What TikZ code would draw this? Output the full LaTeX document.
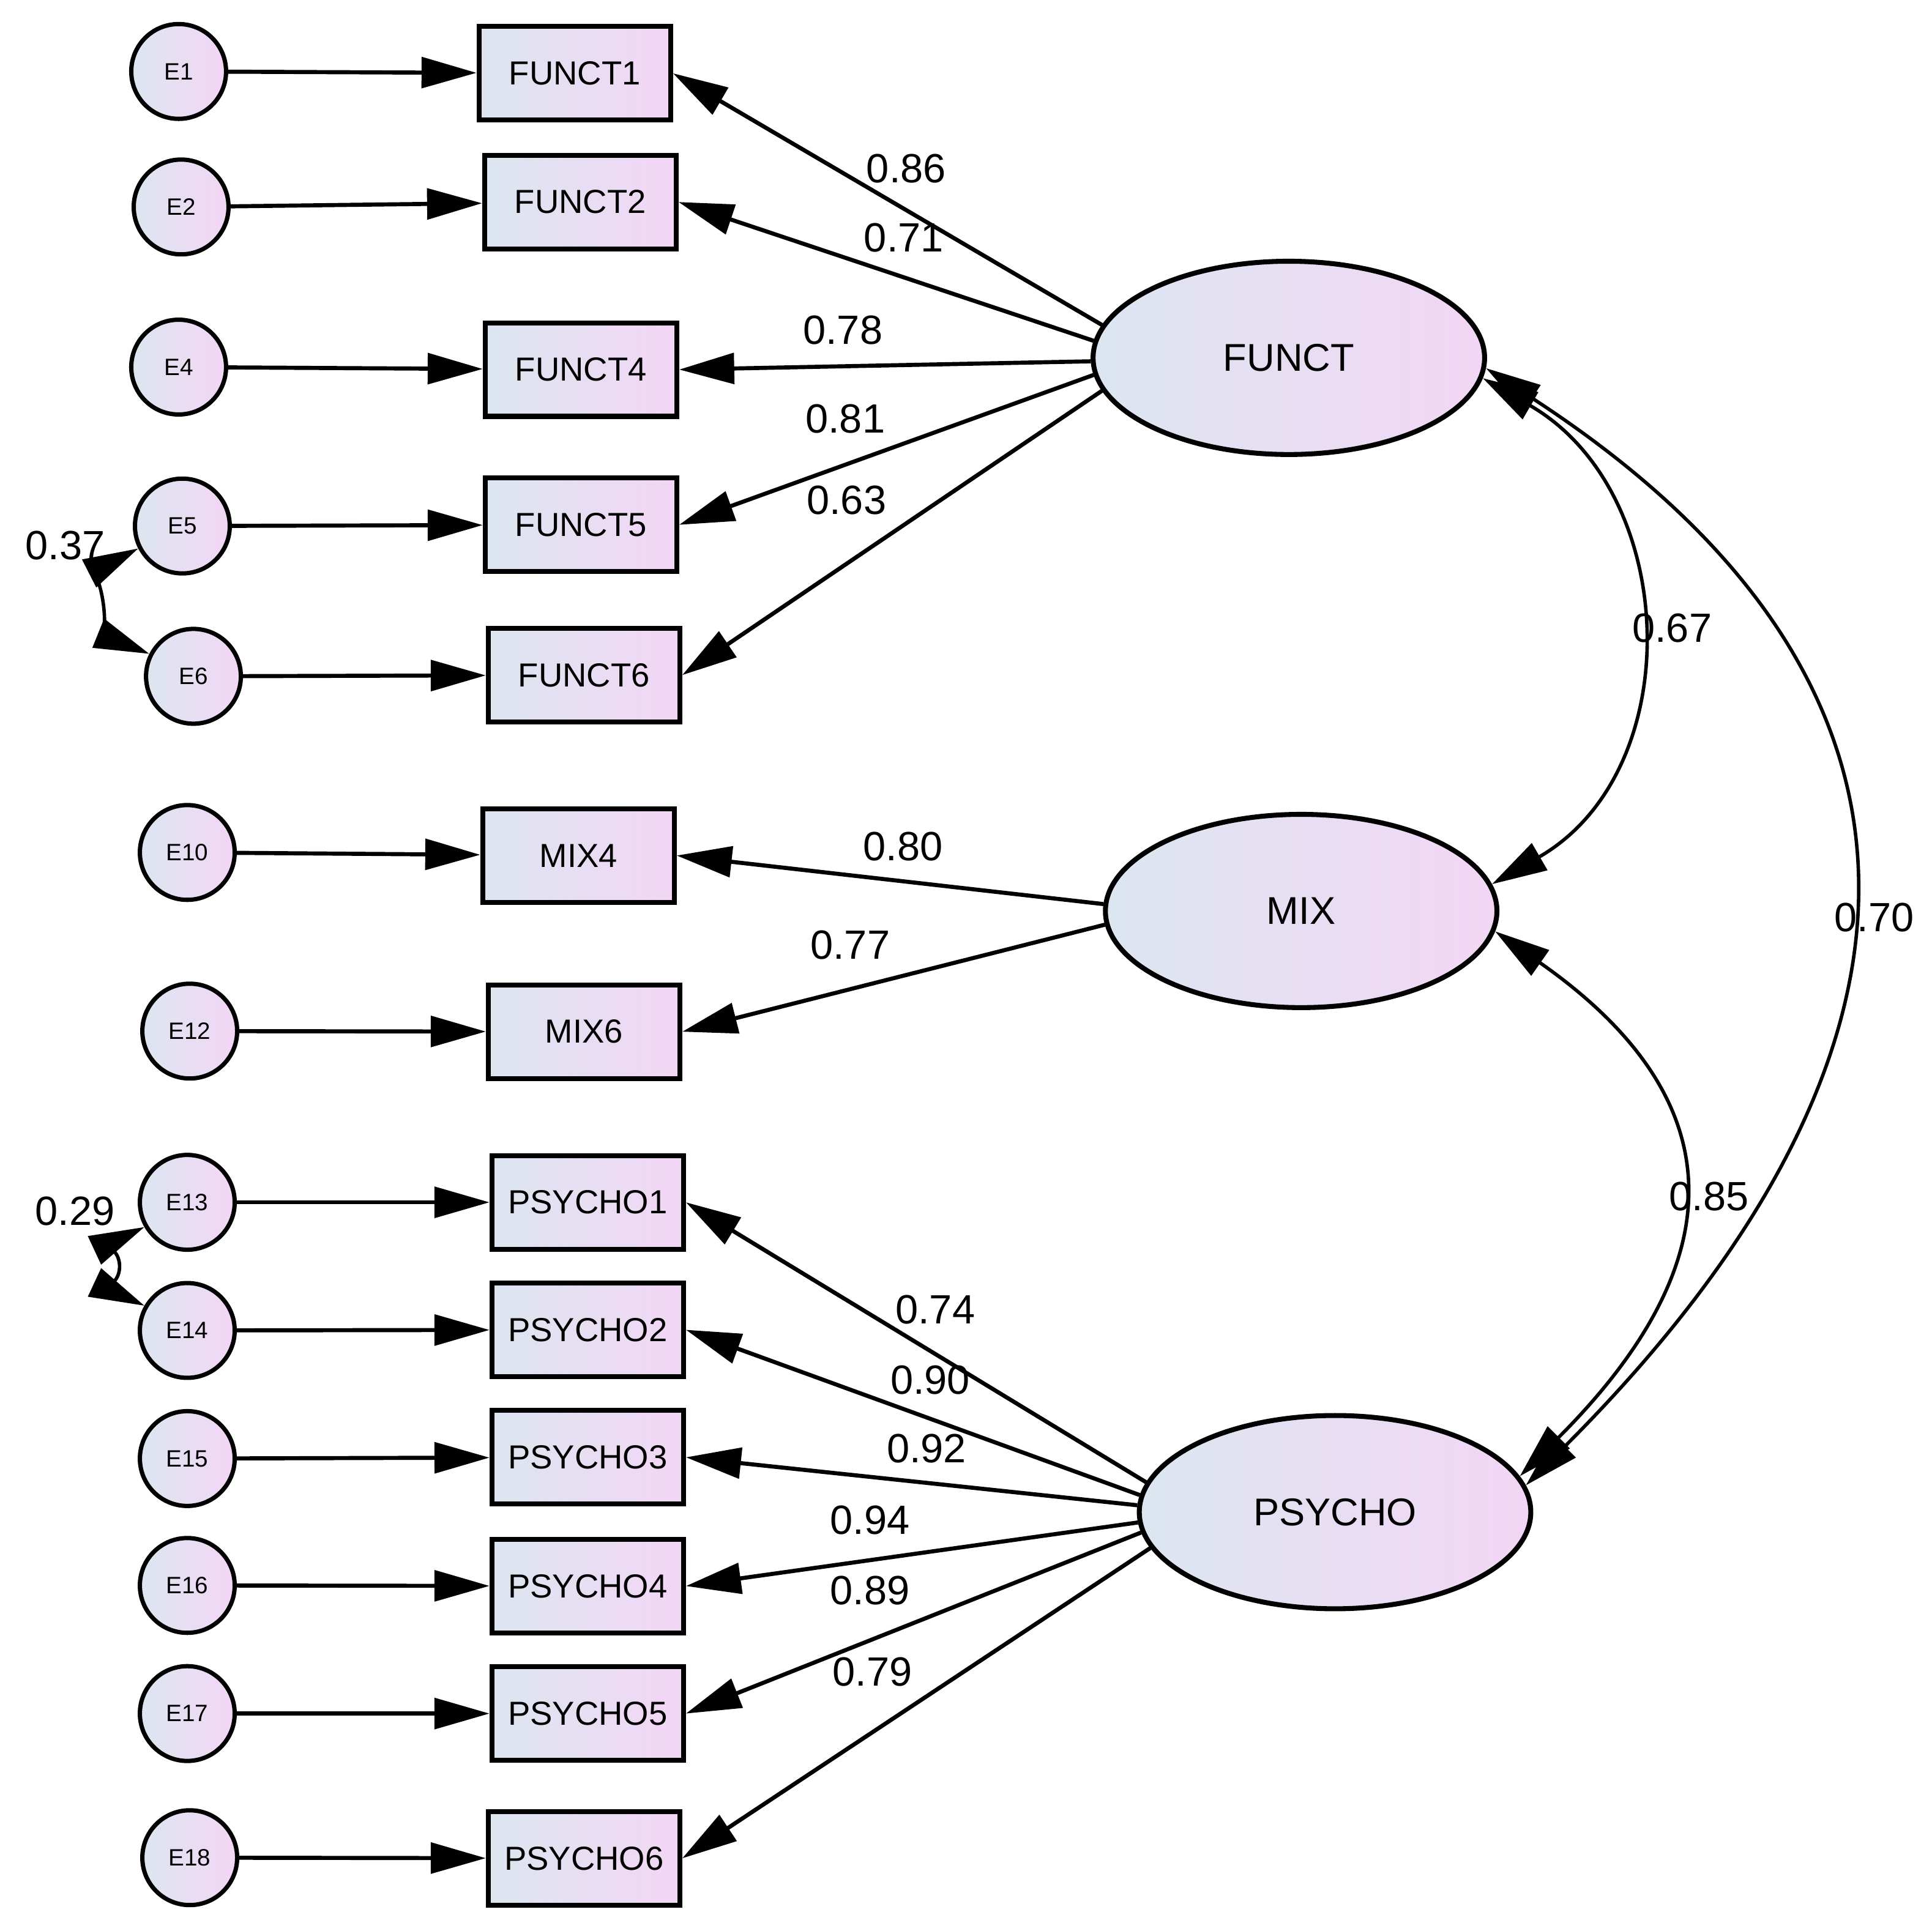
\documentclass[tikz,border=0pt]{standalone}
\usepackage{fontspec}
\setmainfont{Liberation Sans}
\usetikzlibrary{arrows.meta,shapes.geometric,positioning}
\definecolor{shadeL}{RGB}{220,230,240}
\definecolor{shadeR}{RGB}{243,214,245}
\tikzset{>={Triangle[length=0.9cm,width=0.5cm]},
	every edge/.style={draw, line width=1.9pt},
	item/.style={draw, line width=2.3pt, rectangle, minimum width=3.13cm, minimum height=1.53cm, left color=shadeL, right color=shadeR, font=\fontsize{15.5}{18}\selectfont},
	factor/.style={draw, line width=2.3pt, ellipse, inner sep=0pt, minimum width=6.4cm, minimum height=3.16cm, left color=shadeL, right color=shadeR, font=\fontsize{18}{21}\selectfont},
	resid/.style={draw, line width=2pt, circle, inner sep=0pt, minimum size=1.55cm, left color=shadeL, right color=shadeR, font=\fontsize{11}{13}\selectfont},
	coef/.style={inner sep=0pt, font=\fontsize{19}{22}\selectfont}}

\begin{document}
\begin{tikzpicture}[x=0.020134cm, y=0.020134cm]
	\useasboundingbox (0,0) rectangle (1568,-1560.6);
	% latent factors
	\node[factor] (FUNCT)  at (1046,-290.5)  {FUNCT};
	\node[factor] (MIX)    at (1056,-739.5)  {MIX};
	\node[factor] (PSYCHO) at (1083.5,-1227.5) {PSYCHO};
	% items
	\node[item] (F1) at (466.5,-59.5) {FUNCT1};
	\node[item] (F2) at (471,-164)    {FUNCT2};
	\node[item] (F4) at (471.5,-300)  {FUNCT4};
	\node[item] (F5) at (471.5,-426)  {FUNCT5};
	\node[item] (F6) at (474,-548)    {FUNCT6};
	\node[item] (M4) at (469.5,-694.5) {MIX4};
	\node[item] (M6) at (474,-837.5)  {MIX6};
	\node[item] (P1) at (477,-976)    {PSYCHO1};
	\node[item] (P2) at (477,-1079.5) {PSYCHO2};
	\node[item] (P3) at (477,-1183)   {PSYCHO3};
	\node[item] (P4) at (477,-1287.5) {PSYCHO4};
	\node[item] (P5) at (477,-1391)   {PSYCHO5};
	\node[item] (P6) at (474,-1508.5) {PSYCHO6};
	% residuals
	\node[resid] (e1)  at (145,-58)   {E1};
	\node[resid] (e2)  at (147,-168)  {E2};
	\node[resid] (e4)  at (145,-298)  {E4};
	\node[resid] (e5)  at (148,-427)  {E5};
	\node[resid] (e6)  at (157,-549)  {E6};
	\node[resid] (e10) at (152,-692)  {E10};
	\node[resid] (e12) at (154,-837)  {E12};
	\node[resid] (e13) at (152,-976)  {E13};
	\node[resid] (e14) at (152,-1080) {E14};
	\node[resid] (e15) at (152,-1184) {E15};
	\node[resid] (e16) at (152,-1287) {E16};
	\node[resid] (e17) at (152,-1391) {E17};
	\node[resid] (e18) at (154,-1508) {E18};

	\path[->]
		(e1) edge (F1)
		(e2) edge (F2)
		(e4) edge (F4)
		(e5) edge (F5)
		(e6) edge (F6)
		(e10) edge (M4)
		(e12) edge (M6)
		(e13) edge (P1)
		(e14) edge (P2)
		(e15) edge (P3)
		(e16) edge (P4)
		(e17) edge (P5)
		(e18) edge (P6)
		(FUNCT.170) edge (F1.east)
		(FUNCT.175) edge (F2.east)
		(FUNCT.181) edge (F4.east)
		(FUNCT.185) edge (F5.east)
		(FUNCT.190) edge (F6.east)
		(MIX.178) edge (M4.east)
		(MIX.184) edge (M6.east)
		(PSYCHO.171) edge (P1.east)
		(PSYCHO.175) edge (P2.east)
		(PSYCHO.178) edge (P3.east)
		(PSYCHO.183) edge (P4.east)
		(PSYCHO.186) edge (P5.east)
		(PSYCHO.191) edge (P6.east);

	% covariances
	\path[<->, every edge/.append style={line width=1.6pt}]
		(FUNCT.-6) edge[out=-30, in=30, looseness=1.15] (MIX.8)
		(FUNCT.-3) edge[out=-33, in=45, looseness=1.35] (PSYCHO.8)
		(MIX.-6) edge[out=-35, in=45, looseness=1.4] (PSYCHO.11)
		(e5.207) edge[out=207, in=158] (e6.153)
		(e13.210) edge[out=205, in=155, looseness=0.6] (e14.150);

	% estimates
	\node[coef] (lF1) at (735.5,-137) {0.86};
	\node[coef] (lF2) at (733.5,-193) {0.71};
	\node[coef] (lF4) at (684,-268)   {0.78};
	\node[coef] (lF5) at (686,-340)   {0.81};
	\node[coef] (lF6) at (687,-406)   {0.63};
	\node[coef] (lM4) at (733,-687)   {0.80};
	\node[coef] (lM6) at (690,-767)   {0.77};
	\node[coef] (lP1) at (759,-1063)  {0.74};
	\node[coef] (lP2) at (755,-1120)  {0.90};
	\node[coef] (lP3) at (752,-1176)  {0.92};
	\node[coef] (lP4) at (706,-1234)  {0.94};
	\node[coef] (lP5) at (706,-1291)  {0.89};
	\node[coef] (lP6) at (708,-1357)  {0.79};
	\node[coef] (cFM) at (1357,-510)  {0.67};
	\node[coef] (cFP) at (1521,-745)  {0.70};
	\node[coef] (cMP) at (1387,-971)  {0.85};
	\node[coef] (c56) at (53,-443)    {0.37};
	\node[coef] (c1314) at (61,-983)  {0.29};
\end{tikzpicture}
\end{document}
